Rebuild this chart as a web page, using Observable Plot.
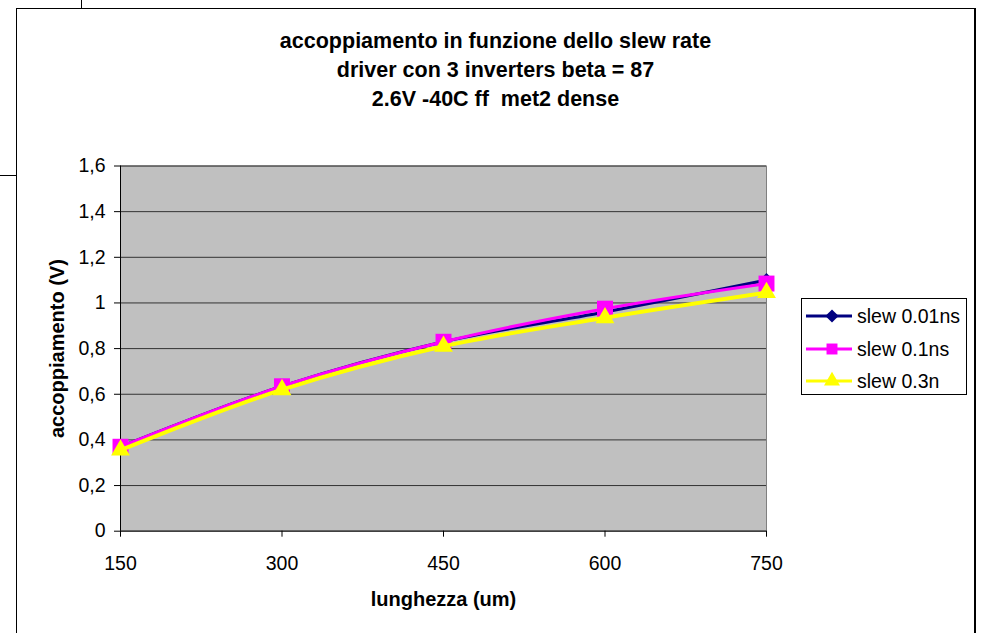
<!DOCTYPE html>
<html>
<head>
<meta charset="utf-8">
<script src="https://cdn.jsdelivr.net/npm/d3@7"></script>
<script src="https://cdn.jsdelivr.net/npm/@observablehq/plot@0.6"></script>
<style>
  html, body { margin: 0; padding: 0; background: white; }
  body { width: 981px; height: 633px; overflow: hidden; position: relative; font-family: "Liberation Sans", Arial, sans-serif; }
  #frame { position: absolute; left: 16px; top: 8px; width: 957px; height: 700px; border: 1px solid black; border-right-width: 2px; }
  #tick1 { position: absolute; left: 81px; top: 0; width: 1px; height: 8px; background: black; }
  #tick2 { position: absolute; left: 0; top: 175px; width: 16px; height: 1px; background: black; }
  #title { position: absolute; left: 16px; width: 959px; top: 27px; text-align: center; font-weight: bold; font-size: 21.5px; line-height: 29px; color: black; white-space: pre; }
  #plot { position: absolute; left: 0; top: 120px; }
  #legend { position: absolute; left: 801px; top: 298px; width: 164px; height: 95px; border: 1px solid black; background: white; }
  .row { position: absolute; left: 3px; height: 24px; display: flex; align-items: center; font-size: 19.5px; }
  .row svg { margin-right: 4px; }
</style>
</head>
<body>
<div id="frame"></div>
<div id="tick1"></div>
<div id="tick2"></div>
<div id="title"></div>
<div id="plot"></div>
<div id="legend"></div>
<script>
// ---- data ----
const titleLines = [
  "accoppiamento in funzione dello slew rate",
  "driver con 3 inverters beta = 87",
  "2.6V -40C ff  met2 dense"
];
const lengths = [150, 300, 450, 600, 750];
const slew001 = [0.37, 0.635, 0.83, 0.96, 1.10];
const slew01 = [0.37, 0.635, 0.83, 0.975, 1.085];
const slew03 = [0.355, 0.62, 0.81, 0.935, 1.045];
const seriesNames = ["slew 0.01ns", "slew 0.1ns", "slew 0.3n"];
const seriesColors = ["#000080", "#ff00ff", "#ffff00"];
const seriesSymbols = ["diamond2", "square", "triangle"];
const xTicks = [150, 300, 450, 600, 750];
const yTicks = [0, 0.2, 0.4, 0.6, 0.8, 1, 1.2, 1.4, 1.6];
const xLabel = "lunghezza (um)";
const yLabel = "accoppiamento (V)";

// ---- build ----
document.getElementById("title").textContent = titleLines.join("\n");

const allSeries = [slew001, slew01, slew03];
const rows = [];
allSeries.forEach((vals, si) => {
  lengths.forEach((x, i) => rows.push({series: seriesNames[si], si, x, y: vals[i]}));
});

const symR = {diamond2: 6.5, square: 9, triangle: 7};
const marks = [
  Plot.frame({fill: "#c0c0c0", stroke: "#808080"}),
  Plot.gridY(yTicks, {stroke: "#333333", strokeOpacity: 1, strokeWidth: 1}),
  Plot.ruleY([0], {stroke: "#404040", strokeWidth: 1.5}),
  Plot.ruleX([150], {stroke: "black", strokeWidth: 1}),
  Plot.axisX({ticks: xTicks, tickSize: 6, tickPadding: 19, tickFormat: d => String(d), label: null}),
  Plot.axisY({ticks: yTicks, tickSize: 6, tickPadding: 9, label: null,
    tickFormat: d => (Number.isInteger(d) ? String(d) : d.toFixed(1).replace(".", ","))}),
  Plot.text([xLabel], {text: d => d, frameAnchor: "bottom", dy: 75, fontWeight: "bold", fontSize: 20}),
  Plot.text([yLabel], {text: d => d, frameAnchor: "left", textAnchor: "middle", dx: -63, rotate: -90, fontWeight: "bold", fontSize: 20})
];
seriesNames.forEach((name, si) => {
  const d = rows.filter(r => r.si === si);
  marks.push(Plot.line(d, {x: "x", y: "y", stroke: seriesColors[si], strokeWidth: si === 2 ? 4 : 3, curve: "catmull-rom"}));
  marks.push(Plot.dot(d, {x: "x", y: "y", fill: seriesColors[si], stroke: "none", symbol: seriesSymbols[si], r: symR[seriesSymbols[si]]}));
});

const chart = Plot.plot({
  width: 981,
  height: 513,
  marginLeft: 120,
  marginRight: 215,
  marginTop: 45.5,
  marginBottom: 102.3,
  style: {fontFamily: "'Liberation Sans', Arial, sans-serif", fontSize: "19.5px", color: "black", background: "transparent", overflow: "visible"},
  x: {type: "linear", domain: [150, 750]},
  y: {domain: [0, 1.6]},
  marks
});
document.getElementById("plot").appendChild(chart);

// ---- legend ----
const legend = document.getElementById("legend");
const rowTops = [5, 38, 70];
seriesNames.forEach((name, si) => {
  const row = document.createElement("div");
  row.className = "row";
  row.style.top = rowTops[si] + "px";
  const svg = d3.create("svg").attr("width", 48).attr("height", 20);
  svg.append("line").attr("x1", 1).attr("x2", 47).attr("y1", 10).attr("y2", 10)
    .attr("stroke", seriesColors[si]).attr("stroke-width", 3);
  const symMap = {diamond2: d3.symbolDiamond2, square: d3.symbolSquare, triangle: d3.symbolTriangle};
  const sizes = {diamond2: 110, square: 120, triangle: 110};
  svg.append("path").attr("transform", "translate(27,10)")
    .attr("d", d3.symbol(symMap[seriesSymbols[si]], sizes[seriesSymbols[si]])())
    .attr("fill", seriesColors[si]);
  row.appendChild(svg.node());
  const span = document.createElement("span");
  span.textContent = name;
  row.appendChild(span);
  legend.appendChild(row);
});
</script>
</body>
</html>
